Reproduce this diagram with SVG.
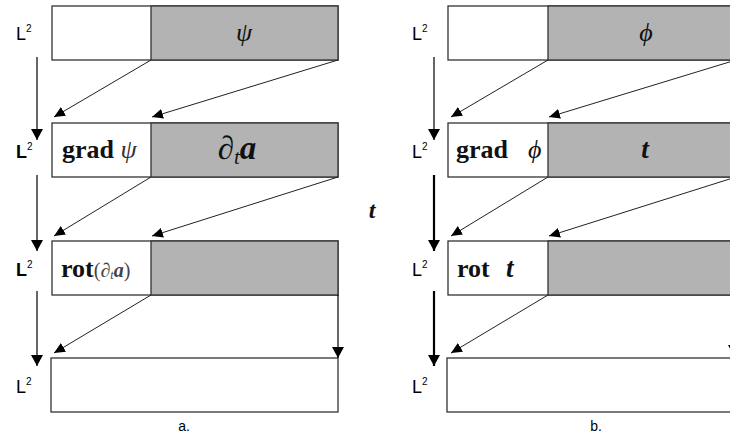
<svg xmlns="http://www.w3.org/2000/svg" width="730" height="436" viewBox="0 0 730 436">
<defs>
<marker id="ah" markerUnits="userSpaceOnUse" markerWidth="12" markerHeight="10" refX="11" refY="5" orient="auto">
<path d="M0,0 L11,5 L0,10 z" fill="#000"/>
</marker>
<marker id="av" markerUnits="userSpaceOnUse" markerWidth="12" markerHeight="12" refX="11" refY="6" orient="auto">
<path d="M0,0 L11,6 L0,12 z" fill="#000"/>
</marker>
</defs>
<style>
.box{fill:#fff;stroke:#333;stroke-width:1.3}
.g{fill:#b3b3b3;stroke:#333;stroke-width:1.3}
.d{stroke:#222;stroke-width:1;fill:none;marker-end:url(#ah)}
.v{stroke:#000;stroke-width:1.2;fill:none;marker-end:url(#av)}
.vb{stroke:#000;stroke-width:2.2;fill:none;marker-end:url(#av)}
.L{font-family:"Liberation Sans",Arial,sans-serif;font-size:18px;fill:#000}
.Lb{font-family:"Liberation Sans",Arial,sans-serif;font-size:18px;font-weight:bold;fill:#000}
.sup{font-size:10px}
.m{font-family:"Liberation Serif","DejaVu Serif",serif;fill:#111}
.cap{font-family:"Liberation Sans",Arial,sans-serif;font-size:14px;fill:#000}
</style>

<g id="panel-a-row1">
<rect class="box" x="52" y="6" width="286" height="54"/>
<rect class="g" x="151" y="6" width="187" height="54"/>
<text class="m" x="244" y="41" font-size="26" font-style="italic" text-anchor="middle" fill="#333">ψ</text>
<text class="L" x="16" y="40">L<tspan class="sup" dy="-8">2</tspan></text>
</g>
<g id="panel-a-row2">
<rect class="box" x="52" y="123" width="286" height="54"/>
<rect class="g" x="151" y="123" width="187" height="54"/>
<text class="m" x="62" y="158" font-size="26" font-weight="bold">grad <tspan font-weight="normal" font-style="italic" fill="#333">ψ</tspan></text>
<text class="m" x="237" y="159" font-size="33" text-anchor="middle">∂<tspan font-size="21" font-style="italic" dy="5">t</tspan><tspan font-style="italic" font-weight="bold" dy="-5">a</tspan></text>
<text class="Lb" x="16" y="158">L<tspan class="sup" font-weight="normal" dy="-8">2</tspan></text>
</g>
<g id="panel-a-row3">
<rect class="box" x="52" y="241" width="286" height="54"/>
<rect class="g" x="151" y="241" width="187" height="54"/>
<text class="m" x="61" y="277" font-size="26" font-weight="bold">rot<tspan font-weight="normal" font-size="20" fill="#444">(∂<tspan font-size="12" font-style="italic" dy="2">t</tspan><tspan font-style="italic" font-weight="bold" dy="-2">a</tspan>)</tspan></text>
<text class="Lb" x="16" y="276">L<tspan class="sup" font-weight="normal" dy="-8">2</tspan></text>
</g>
<g id="panel-a-row4">
<rect class="box" x="51" y="358" width="287" height="54"/>
<text class="L" x="16" y="393">L<tspan class="sup" dy="-8">2</tspan></text>
</g>

<g id="panel-b-row1">
<rect class="box" x="448" y="6" width="288" height="54"/>
<rect class="g" x="548" y="6" width="188" height="54"/>
<text class="m" x="646" y="41" font-size="26" font-style="italic" text-anchor="middle" fill="#333">ϕ</text>
<text class="L" x="412" y="40">L<tspan class="sup" dy="-8">2</tspan></text>
</g>
<g id="panel-b-row2">
<rect class="box" x="448" y="123" width="288" height="54"/>
<rect class="g" x="548" y="123" width="188" height="54"/>
<text class="m" x="456" y="158" font-size="26" font-weight="bold">grad</text>
<text class="m" x="528" y="158" font-size="26" font-style="italic" fill="#333">ϕ</text>
<text class="m" x="645" y="158" font-size="27" font-style="italic" font-weight="bold" text-anchor="middle">t</text>
<text class="L" x="412" y="158">L<tspan class="sup" dy="-8">2</tspan></text>
</g>
<g id="panel-b-row3">
<rect class="box" x="448" y="241" width="288" height="54"/>
<rect class="g" x="548" y="241" width="188" height="54"/>
<text class="m" x="457" y="277" font-size="26" font-weight="bold">rot</text>
<text class="m" x="506" y="277" font-size="27" font-style="italic" font-weight="bold">t</text>
<text class="L" x="412" y="276">L<tspan class="sup" dy="-8">2</tspan></text>
</g>
<g id="panel-b-row4">
<rect class="box" x="447" y="358" width="289" height="54"/>
<text class="L" x="412" y="393">L<tspan class="sup" dy="-8">2</tspan></text>
</g>

<g id="label-t">
<text class="m" x="372" y="218" font-size="24" font-style="italic" font-weight="bold" text-anchor="middle">t</text>
</g>
<g id="captions">
<text class="cap" x="184" y="431" text-anchor="middle">a.</text>
<text class="cap" x="596" y="431" text-anchor="middle">b.</text>
</g>

<g id="connectors">
<line class="v" x1="37" y1="57" x2="37" y2="140"/>
<line class="v" x1="37" y1="175" x2="37" y2="251"/>
<line class="v" x1="37" y1="291" x2="37" y2="366"/>
<line class="d" x1="151" y1="60" x2="54" y2="117"/>
<line class="d" x1="338" y1="60" x2="152" y2="117"/>
<line class="d" x1="151" y1="177" x2="54" y2="236"/>
<line class="d" x1="338" y1="177" x2="152" y2="236"/>
<line class="d" x1="151" y1="295" x2="54" y2="353"/>
<line class="v" x1="338" y1="295" x2="338" y2="358"/>

<line class="v" x1="434" y1="57" x2="434" y2="140"/>
<line class="vb" x1="434" y1="175" x2="434" y2="251"/>
<line class="vb" x1="434" y1="291" x2="434" y2="366"/>
<line class="d" x1="548" y1="60" x2="451" y2="117"/>
<line class="d" x1="736" y1="60" x2="549" y2="117"/>
<line class="d" x1="548" y1="177" x2="451" y2="236"/>
<line class="d" x1="736" y1="177" x2="549" y2="236"/>
<line class="d" x1="548" y1="295" x2="451" y2="353"/>
<line class="v" x1="734" y1="295" x2="734" y2="356"/>
</g>
</svg>
